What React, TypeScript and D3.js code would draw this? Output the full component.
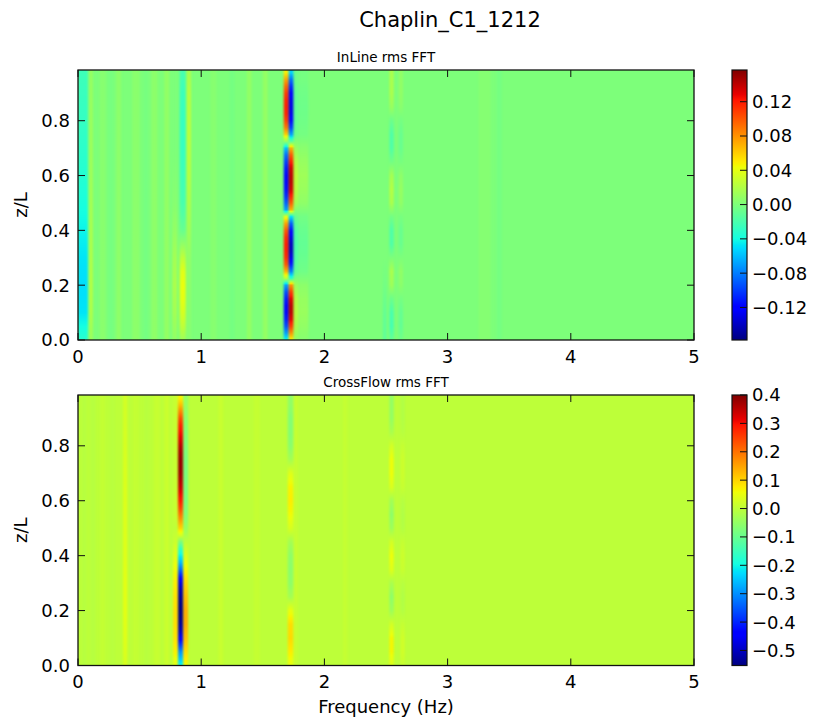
import React from 'react';
import * as d3 from 'd3';

const zFine = [0, 0.025, 0.05, 0.075, 0.1, 0.125, 0.15, 0.175, 0.2, 0.225, 0.25, 0.275, 0.3, 0.325, 0.35, 0.375,
  0.4, 0.425, 0.45, 0.475, 0.5, 0.525, 0.55, 0.575, 0.6, 0.625, 0.65, 0.675, 0.7, 0.725, 0.75, 0.775, 0.8, 0.825,
  0.85, 0.875, 0.9, 0.925, 0.95, 0.975];
const zMid = [0, 0.05, 0.1, 0.15, 0.2, 0.25, 0.3, 0.35, 0.4, 0.45, 0.5, 0.55, 0.6, 0.65, 0.7, 0.75, 0.8, 0.85, 0.9, 0.95];
const zCoarse = [0, 0.1, 0.2, 0.3, 0.4, 0.5, 0.6, 0.7, 0.8, 0.9, 0.985];
const zFlat = [0, 0.985];
const zTop = 0.985;

const freqTicks = [0, 1, 2, 3, 4, 5];
const zTicks = [0, 0.2, 0.4, 0.6, 0.8];

// ---- InLine rms FFT
const inlineLimits = [-0.158, 0.157];
const inlineBarTicks = [-0.12, -0.08, -0.04, 0, 0.04, 0.08, 0.12];
const inlEdge = [-0.032, -0.048, -0.05, -0.048, -0.043, -0.038, -0.034, -0.031, -0.028, -0.026, -0.024];
const inlNearZero = [0.012, 0.02, 0.022, 0.02, 0.018, 0.016, 0.014, 0.013, 0.012, 0.011, 0.01];
const inl079z = [0, 0.1, 0.2, 0.3, 0.4, 0.5, 0.7, 0.985];
const inl079 = [0.008, 0.015, 0.018, 0.015, 0.009, 0.004, 0, 0];
const inl085z = [0, 0.05, 0.1, 0.15, 0.2, 0.25, 0.3, 0.35, 0.4, 0.45, 0.5, 0.6, 0.7, 0.8, 0.9, 0.985];
const inl085 = [0.012, 0.025, 0.034, 0.04, 0.042, 0.038, 0.025, 0.008, -0.008, -0.015, -0.02, -0.024, -0.027, -0.027, -0.025, -0.02];
const inl090z = [0, 0.3, 0.45, 0.6, 0.75, 0.9, 0.985];
const inl090 = [0.004, 0.008, 0.016, 0.022, 0.024, 0.022, 0.016];
const inlMainA = [-0.04, -0.07, -0.095, -0.11, -0.118, -0.118, -0.11, -0.095, -0.07,
  0.025, 0.07, 0.1, 0.115, 0.12, 0.12, 0.115, 0.1, 0.075, 0.04,
  -0.07, -0.09, -0.105, -0.115, -0.118, -0.118, -0.112, -0.1, -0.085, -0.06,
  0.01, 0.06, 0.09, 0.108, 0.118, 0.12, 0.118, 0.11, 0.095, 0.075, 0.05];
const inlMainB = [0.045, 0.08, 0.11, 0.13, 0.14, 0.14, 0.13, 0.11, 0.08,
  -0.03, -0.08, -0.11, -0.13, -0.14, -0.14, -0.13, -0.115, -0.09, -0.05,
  0.07, 0.1, 0.12, 0.135, 0.14, 0.14, 0.135, 0.12, 0.1, 0.07,
  -0.015, -0.07, -0.1, -0.118, -0.128, -0.13, -0.128, -0.12, -0.105, -0.085, -0.055];
const inlSide1 = [0.008, 0.016, 0.022, 0.02, 0.012, -0.01, -0.016, -0.019, -0.016, -0.008,
  0.014, 0.022, 0.025, 0.02, 0.01, -0.006, -0.01, -0.011, -0.01, -0.006];
const inlSide2 = [0.004, 0.008, 0.011, 0.01, 0.006, -0.005, -0.008, -0.01, -0.008, -0.004,
  0.007, 0.011, 0.013, 0.01, 0.005, -0.003, -0.005, -0.006, -0.005, -0.003];
const inl249z = [0, 0.1, 0.2, 0.3, 0.985];
const inl249 = [-0.012, -0.01, -0.004, 0, 0];
const inlThird = [-0.01, -0.022, -0.02, -0.007, 0.013, 0.018, 0, -0.018, -0.018, -0.004,
  0.018, 0.022, 0.016, -0.004, -0.018, -0.018, -0.007, 0.011, 0.018, 0.018];
const inlThirdSide = [-0.005, -0.01, -0.009, -0.003, 0.006, 0.008, 0, -0.008, -0.008, -0.002,
  0.008, 0.01, 0.007, -0.002, -0.008, -0.008, -0.003, 0.005, 0.008, 0.008];

const inlineStripes = [
  { f: 0.04, w: 0.08, z: zCoarse, v: inlEdge },
  { f: 0.105, w: 0.03, z: zCoarse, v: inlNearZero },
  { f: 0.2, w: 0.05, z: zFlat, v: [0.005, 0.004] },
  { f: 0.265, w: 0.04, z: zFlat, v: [-0.003, -0.002] },
  { f: 0.33, w: 0.04, z: zFlat, v: [0.007, 0.006] },
  { f: 0.47, w: 0.06, z: zFlat, v: [0.006, 0.005] },
  { f: 0.55, w: 0.04, z: zFlat, v: [-0.003, -0.002] },
  { f: 0.62, w: 0.05, z: zFlat, v: [0.007, 0.006] },
  { f: 0.72, w: 0.04, z: zFlat, v: [0.009, 0.008] },
  { f: 0.785, w: 0.04, z: inl079z, v: inl079 },
  { f: 0.85, w: 0.05, z: inl085z, v: inl085 },
  { f: 0.9, w: 0.035, z: inl090z, v: inl090 },
  { f: 1.1, w: 0.05, z: zFlat, v: [0.004, 0.004] },
  { f: 1.25, w: 0.04, z: zFlat, v: [-0.003, -0.003] },
  { f: 1.39, w: 0.04, z: zFlat, v: [0.008, 0.008] },
  { f: 1.52, w: 0.04, z: zFlat, v: [0.009, 0.009] },
  { f: 1.69, w: 0.04, z: zFine, v: inlMainA },
  { f: 1.73, w: 0.04, z: zFine, v: inlMainB },
  { f: 1.77, w: 0.04, z: zMid, v: inlSide1 },
  { f: 1.83, w: 0.08, z: zMid, v: inlSide2 },
  { f: 2.49, w: 0.03, z: inl249z, v: inl249 },
  { f: 2.545, w: 0.035, z: zMid, v: inlThird },
  { f: 2.62, w: 0.035, z: zMid, v: inlThirdSide },
  { f: 3.3, w: 0.1, z: zFlat, v: [0.003, 0.003] },
  { f: 3.42, w: 0.04, z: zFlat, v: [-0.003, -0.003] },
];

// ---- CrossFlow rms FFT
const crossLimits = [-0.553, 0.4];
const crossBarTicks = [-0.5, -0.4, -0.3, -0.2, -0.1, 0, 0.1, 0.2, 0.3, 0.4];
const crsFirst = [0.03, 0.04, 0.045, 0.045, 0.04, 0.038, 0.037, 0.034, 0.03, 0.026, 0.025];
const crsLeft = [0.04, 0.07, 0.085, 0.09, 0.09, 0.085, 0.075, 0.06, 0.04, 0.015,
  0, 0.01, 0.01, 0.01, 0.01, 0.01, 0.01, 0.01, 0.01, 0.01];
const crsMain = [-0.2, -0.25, -0.3, -0.38, -0.45, -0.5, -0.53, -0.545, -0.55, -0.545, -0.53, -0.51, -0.47,
  -0.41, -0.33, -0.26, -0.21, -0.16, -0.08,
  0.03, 0.1, 0.15, 0.2, 0.25, 0.29, 0.31, 0.34, 0.36, 0.375, 0.38, 0.38, 0.37, 0.35, 0.32, 0.3, 0.28,
  0.24, 0.18, 0.12, 0.07];
const crsRight = [0.06, 0.09, 0.12, 0.14, 0.14, 0.12, 0.095, 0.065, 0.035, 0,
  -0.045, -0.07, -0.08, -0.08, -0.08, -0.08, -0.075, -0.07, -0.06, -0.045];
const crsSecond = [0.045, 0.075, 0.095, 0.09, 0.05, -0.03, -0.055, -0.06, -0.055, -0.03,
  0.03, 0.06, 0.075, 0.068, 0.038, -0.03, -0.06, -0.068, -0.068, -0.052];
const crsThird = [0.034, 0.066, 0.066, 0.025, -0.04, -0.058, -0.025, 0.04, 0.058, 0.025,
  -0.04, -0.058, -0.034, 0.034, 0.058, 0.058, 0.025, -0.025, -0.05, -0.05];
const crsThirdSide = [0.01, 0.02, 0.02, 0.008, -0.012, -0.016, -0.008, 0.012, 0.016, 0.008,
  -0.012, -0.016, -0.01, 0.01, 0.016, 0.016, 0.008, -0.008, -0.014, -0.014];

const crossStripes = [
  { f: 0.05, w: 0.04, z: zFlat, v: [-0.007, -0.007] },
  { f: 0.12, w: 0.04, z: zFlat, v: [-0.008, -0.008] },
  { f: 0.2, w: 0.04, z: zFlat, v: [0.007, 0.007] },
  { f: 0.28, w: 0.04, z: zFlat, v: [-0.005, -0.005] },
  { f: 0.383, w: 0.035, z: zCoarse, v: crsFirst },
  { f: 0.47, w: 0.05, z: zFlat, v: [0.007, 0.007] },
  { f: 0.56, w: 0.04, z: zFlat, v: [-0.006, -0.006] },
  { f: 0.64, w: 0.05, z: zFlat, v: [0.01, 0.01] },
  { f: 0.72, w: 0.04, z: zFlat, v: [0.013, 0.013] },
  { f: 0.792, w: 0.04, z: zMid, v: crsLeft },
  { f: 0.833, w: 0.042, z: zFine, v: crsMain },
  { f: 0.874, w: 0.04, z: zMid, v: crsRight },
  { f: 1.16, w: 0.04, z: zFlat, v: [0.011, 0.011] },
  { f: 1.45, w: 0.05, z: zFlat, v: [0.008, 0.008] },
  { f: 1.725, w: 0.045, z: zMid, v: crsSecond },
  { f: 1.77, w: 0.03, z: zFlat, v: [0.01, 0.01] },
  { f: 2.17, w: 0.035, z: zFlat, v: [0.008, 0.008] },
  { f: 2.545, w: 0.035, z: zMid, v: crsThird },
  { f: 2.635, w: 0.035, z: zMid, v: crsThirdSide },
];

// matplotlib "jet" segment data
const jetRed = [[0, 0], [0.35, 0], [0.66, 1], [0.89, 1], [1, 0.5]];
const jetGreen = [[0, 0], [0.125, 0], [0.375, 1], [0.64, 1], [0.91, 0], [1, 0]];
const jetBlue = [[0, 0.5], [0.11, 1], [0.34, 1], [0.65, 0], [1, 0]];

const channel = (pts: number[][]) =>
  d3.scaleLinear().domain(pts.map(p => p[0])).range(pts.map(p => p[1])).clamp(true);
const jr = channel(jetRed), jg = channel(jetGreen), jb = channel(jetBlue);
const jet = (t: number) => d3.rgb(jr(t) * 255, jg(t) * 255, jb(t) * 255).formatHex();
const jetStops = Array.from(new Set([...jetRed, ...jetGreen, ...jetBlue].map(p => p[0]))).sort((a, b) => a - b);

const left = 78, right = 694;
const barX = 732, barW = 15;
const tickLen = 7;
const font = 'DejaVu Sans';
const fs = 18;

function Heatmap({ id, top, bottom, title, stripes, limits, barTicks, barFmt, showX }: any) {
  const x = d3.scaleLinear().domain([0, 5]).range([left, right]);
  const y = d3.scaleLinear().domain([0, zTop]).range([bottom, top]);
  const norm = d3.scaleLinear().domain(limits).range([0, 1]).clamp(true);
  const bar = d3.scaleLinear().domain(limits).range([bottom, top]);
  const color = (v: number) => jet(norm(v));
  const fmtY = d3.format('.1f');
  const fmtBar = d3.format(barFmt);
  const sub = 4;

  // colour stops along a column: values blended between read points, then coloured
  const stopsFor = (s: any) => {
    const out: { o: number; c: string }[] = [];
    for (let i = 0; i < s.z.length - 1; i++) {
      for (let k = 0; k < sub; k++) {
        const zz = s.z[i] + (s.z[i + 1] - s.z[i]) * k / sub;
        const vv = s.v[i] + (s.v[i + 1] - s.v[i]) * k / sub;
        out.push({ o: zz / zTop, c: color(vv) });
      }
    }
    out.push({ o: s.z[s.z.length - 1] / zTop, c: color(s.v[s.v.length - 1]) });
    return out;
  };

  return (
    <g>
      <defs>
        <clipPath id={id + '-clip'}>
          <rect x={left} y={top} width={right - left} height={bottom - top} />
        </clipPath>
        <filter id={id + '-blur'} x="-0.05" y="0" width="1.1" height="1" colorInterpolationFilters="sRGB">
          <feGaussianBlur stdDeviation="1.2 0" />
        </filter>
        {stripes.map((s: any, i: number) => (
          <linearGradient key={i} id={`${id}-g${i}`} gradientUnits="userSpaceOnUse"
            x1={0} x2={0} y1={y(0)} y2={y(zTop)}>
            {stopsFor(s).map((st, j) => <stop key={j} offset={st.o} stopColor={st.c} />)}
          </linearGradient>
        ))}
        <linearGradient id={id + '-bar'} x1={0} y1={1} x2={0} y2={0}>
          {jetStops.map(t => <stop key={t} offset={t} stopColor={jet(t)} />)}
        </linearGradient>
      </defs>

      <g clipPath={`url(#${id}-clip)`}>
        <rect x={left} y={top} width={right - left} height={bottom - top} fill={color(0)} />
        <g filter={`url(#${id}-blur)`}>
          {stripes.map((s: any, i: number) => (
            <rect key={i} x={x(s.f - s.w / 2)} y={top} width={x(s.f + s.w / 2) - x(s.f - s.w / 2)}
              height={bottom - top} fill={`url(#${id}-g${i})`} />
          ))}
        </g>
      </g>

      <rect x={left} y={top} width={right - left} height={bottom - top} fill="none" stroke="#111" strokeWidth={1.3} />
      {freqTicks.map(t => (
        <g key={'x' + t}>
          <line x1={x(t)} x2={x(t)} y1={bottom} y2={bottom - tickLen} stroke="#111" />
          <line x1={x(t)} x2={x(t)} y1={top} y2={top + tickLen} stroke="#111" />
          <text x={x(t)} y={bottom + 22.5} textAnchor="middle" fontSize={fs} fontFamily={font}>{t}</text>
        </g>
      ))}
      {zTicks.map(t => (
        <g key={'y' + t}>
          <line x1={left} x2={left + tickLen} y1={y(t)} y2={y(t)} stroke="#111" />
          <line x1={right} x2={right - tickLen} y1={y(t)} y2={y(t)} stroke="#111" />
          <text x={left - 8} y={y(t) + fs * 0.36} textAnchor="end" fontSize={fs} fontFamily={font}>{fmtY(t)}</text>
        </g>
      ))}
      <text transform={`translate(27,${(top + bottom) / 2}) rotate(-90)`} textAnchor="middle"
        fontSize={fs} fontFamily={font}>z/L</text>
      <text x={(left + right) / 2} y={top - 8} textAnchor="middle" fontSize={13.5} fontFamily={font}>{title}</text>
      {showX && (
        <text x={(left + right) / 2} y={713} textAnchor="middle" fontSize={fs} fontFamily={font}>Frequency (Hz)</text>
      )}

      <rect x={barX} y={top} width={barW} height={bottom - top} fill={`url(#${id}-bar)`} stroke="#111" strokeWidth={1.2} />
      {barTicks.map((t: number) => (
        <g key={'b' + t}>
          <line x1={barX + barW} x2={barX + barW - tickLen} y1={bar(t)} y2={bar(t)} stroke="#111" />
          <text x={barX + barW + 5} y={bar(t) + fs * 0.36} fontSize={fs} fontFamily={font}>{fmtBar(t)}</text>
        </g>
      ))}
    </g>
  );
}

export default function App() {
  return (
    <svg width={817} height={722} style={{ position: 'absolute', left: 0, top: 0, background: '#fff' }}>
      <rect width={817} height={722} fill="#fff" />
      <text x={450} y={26.5} textAnchor="middle" fontSize={21} fontFamily={font}>Chaplin_C1_1212</text>
      <Heatmap id="inl" top={70} bottom={340} title="InLine rms FFT" stripes={inlineStripes}
        limits={inlineLimits} barTicks={inlineBarTicks} barFmt=".2f" showX={false} />
      <Heatmap id="crs" top={395} bottom={665.5} title="CrossFlow rms FFT" stripes={crossStripes}
        limits={crossLimits} barTicks={crossBarTicks} barFmt=".1f" showX={true} />
    </svg>
  );
}
